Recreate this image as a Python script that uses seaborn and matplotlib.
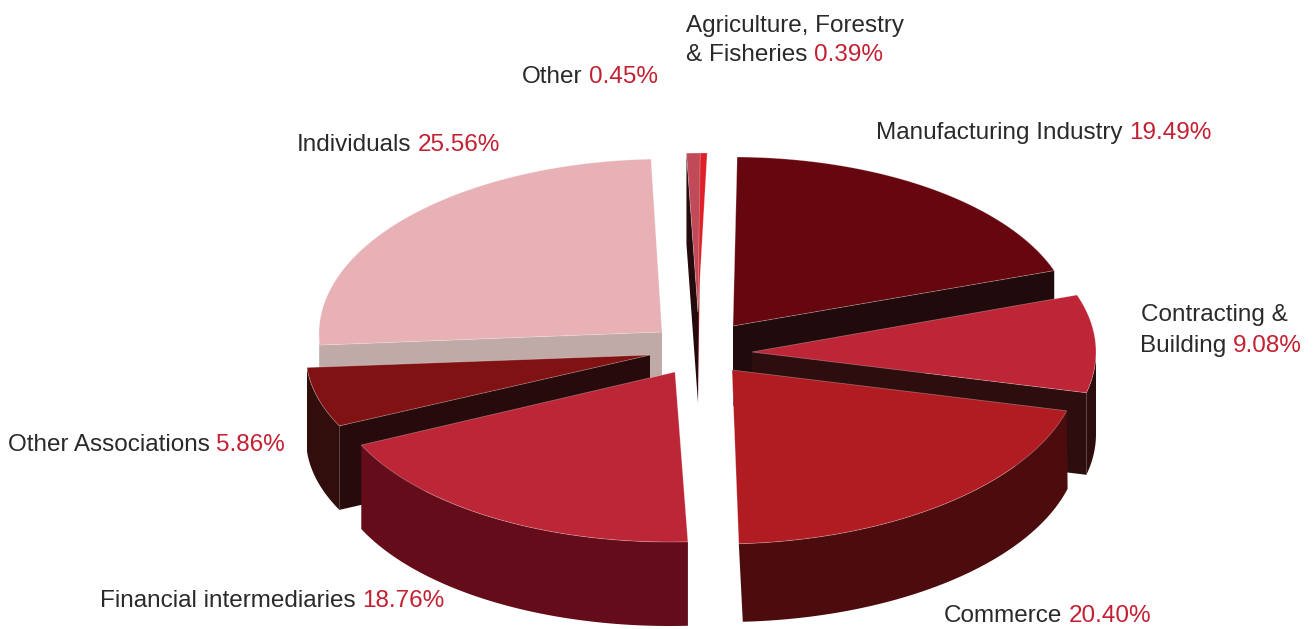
import numpy as np
import matplotlib
matplotlib.use("Agg")
import matplotlib.pyplot as plt
import seaborn as sns

# Loan portfolio by economic sector, percentage shares, clockwise from 12 o'clock
sectors = ["Manufacturing", "Contracting", "Commerce", "Financial",
           "Associations", "Individuals", "Other", "Agriculture"]
shares = [19.49, 9.08, 20.40, 18.76, 5.86, 25.56, 0.45, 0.39]

# Label wording: the last line is followed by the share in red
label_lines = [
    ["Manufacturing Industry"],
    ["Contracting &", "Building"],
    ["Commerce"],
    ["Financial intermediaries"],
    ["Other Associations"],
    ["Individuals"],
    ["Other"],
    ["Agriculture, Forestry", "& Fisheries"],
]

top_colors = ["#66060e", "#be2637", "#b01c22", "#bd2637",
              "#801213", "#e7b1b6", "#c14a58", "#de2029"]
rim_colors = ["#200a0b", "#2e0d0e", "#4c0c0e", "#640c1a",
              "#310e0c", "#bfaaa8", "#240a0c", "#8a1018"]
cut_colors = ["#200a0b", "#2e0d0e", "#4c0c0e", "#640c1a",
              "#270a0b", "#bfaaa8", "#240a0c", "#8a1018"]

# Exploded pie layout, in pixels: apex of each slice, ellipse radii, thickness,
# shear of the top surface and sideways lean of the wall
apex_x = [733, 752, 732, 675, 650, 662, 698, 698]
apex_y = [326, 352, 370, 372, 355, 332, 312, 312]
radius_x = [340, 344, 347, 345, 344, 343, 500, 286]
radius_y = [169, 174, 174, 170, 165, 173, 159, 159]
depth = [80, 82, 78, 84, 84, 80, 91, 91]
shear = [0.0, 0.0, -0.065, -0.03, 0.0, -0.017, -0.055, -0.036]
wall_lean = [0, 0, 4, 0, 0, 0, 0, 0]

# Baseline positions of the label lines, and their left edges
label_x = [[876], [1141, 1140], [944], [100], [8], [297], [522], [686, 686]]
label_y = [[139], [321, 352], [622], [607], [451], [151], [83], [32, 61]]

START_ANGLE = 0.7
DRAW_ORDER = [5, 6, 7, 0, 1, 4, 3, 2]
TEXT_DARK = "#2b2a2b"
TEXT_RED = "#c32032"
SEAM = (1, 1, 1, 0.3)

sns.set_theme(style="white")
plt.rcParams["font.family"] = ["Liberation Sans", "DejaVu Sans"]

fig = plt.figure(figsize=(13.16, 6.29), dpi=100)
ax = fig.add_axes([0, 0, 1, 1])
ax.set_xlim(0, 1316)
ax.set_ylim(629, 0)
ax.set_axis_off()

sweep = np.array(shares) / sum(shares) * 360
ends = START_ANGLE + np.cumsum(sweep)
starts = ends - sweep


def rim_points(i, t):
    """Screen position of the rim at clockwise angle t (degrees) of slice i."""
    rad = np.radians(t)
    dy = -radius_y[i] * np.cos(rad)
    return apex_x[i] + radius_x[i] * np.sin(rad) + shear[i] * dy, apex_y[i] + dy


def draw_cut_face(i, t):
    x, y = rim_points(i, t)
    ax.fill([apex_x[i], x, x, apex_x[i]],
            [apex_y[i], y, y + depth[i], apex_y[i] + depth[i]],
            color=cut_colors[i], lw=0)


def draw_slice(i):
    t0, t1 = starts[i], ends[i]
    # Radial faces that turn toward the viewer
    if np.sin(np.radians(t0)) < 0:
        draw_cut_face(i, t0)
    if np.sin(np.radians(t1)) > 0.1:
        draw_cut_face(i, t1)
    # Outer wall: only the front half of the circle shows
    lo, hi = max(t0, 90), min(t1, 270)
    if lo < hi:
        ts = np.linspace(lo, hi, 80)
        x, y = rim_points(i, ts)
        lean = -wall_lean[i] * np.cos(np.radians(ts))
        ax.fill(np.r_[x, (x + lean)[::-1]], np.r_[y, y[::-1] + depth[i]],
                color=rim_colors[i], lw=0)
    # Top surface
    x, y = rim_points(i, np.linspace(t0, t1, 120))
    ax.fill(np.r_[apex_x[i], x], np.r_[apex_y[i], y],
            facecolor=top_colors[i], edgecolor=SEAM, lw=0.6, joinstyle="miter")


for i in DRAW_ORDER:
    draw_slice(i)

# Labels: sector name in dark grey, share in red on the same baseline
renderer = fig.canvas.get_renderer()
inv = ax.transData.inverted()
for i, lines in enumerate(label_lines):
    for j, line in enumerate(lines):
        last = ax.text(label_x[i][j], label_y[i][j], line,
                       color=TEXT_DARK, fontsize=17.5, ha="left", va="baseline")
    right = inv.transform(last.get_window_extent(renderer).get_points())[1, 0]
    ax.text(right + 6.5, label_y[i][-1], f"{shares[i]:.2f}%",
            color=TEXT_RED, fontsize=17.5, ha="left", va="baseline")

fig.savefig("out.png", dpi=100)
